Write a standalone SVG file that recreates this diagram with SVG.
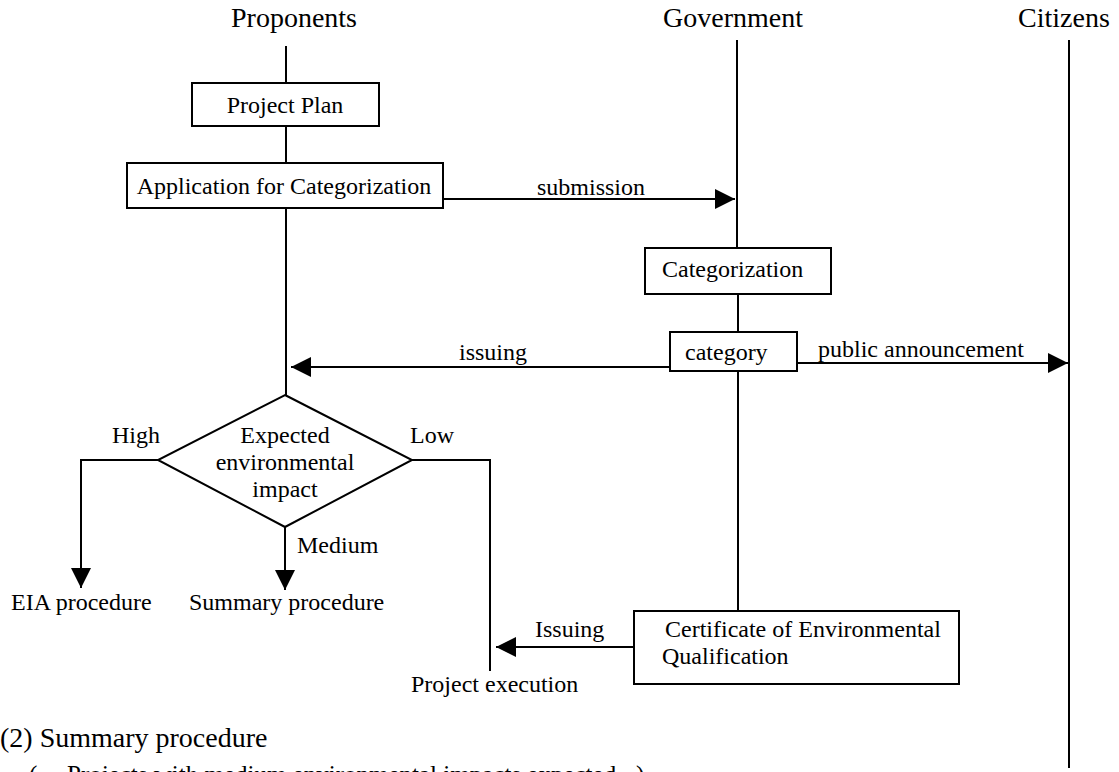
<svg xmlns="http://www.w3.org/2000/svg" width="1119" height="772" viewBox="0 0 1119 772">
<style>
text{font-family:"Liberation Serif","Times New Roman",serif;fill:#000;font-size:24px}
.title{font-size:28px}
.big{font-size:28px}
.note{font-size:25px}
.box{fill:#fff;stroke:#000;stroke-width:2}
.ln{fill:none;stroke:#000;stroke-width:2}
.mid{text-anchor:middle}
</style>
<defs>
<marker id="ah" markerUnits="userSpaceOnUse" markerWidth="20" markerHeight="20" refX="20" refY="10" orient="auto" viewBox="0 0 20 20">
<path d="M0,0 L20,10 L0,20 z" fill="#000"/>
</marker>
</defs>
<rect width="1119" height="772" fill="#fff"/>
<g id="connectors">
<line class="ln" x1="286" y1="46" x2="286" y2="83"/>
<line class="ln" x1="286" y1="126" x2="286" y2="163"/>
<line class="ln" x1="286" y1="208" x2="286" y2="395"/>
<line class="ln" x1="737" y1="40" x2="737" y2="248"/>
<line class="ln" x1="738" y1="294" x2="738" y2="332"/>
<line class="ln" x1="738" y1="371" x2="738" y2="611"/>
<line class="ln" x1="1069" y1="40" x2="1069" y2="768"/>
<line class="ln" x1="443" y1="199" x2="735" y2="199" marker-end="url(#ah)"/>
<line class="ln" x1="670" y1="367" x2="291" y2="367" marker-end="url(#ah)"/>
<line class="ln" x1="797" y1="363" x2="1068" y2="363" marker-end="url(#ah)"/>
<polyline class="ln" points="158,460 81,460 81,588" marker-end="url(#ah)"/>
<line class="ln" x1="285" y1="527" x2="285" y2="590" marker-end="url(#ah)"/>
<polyline class="ln" points="412,460 490,460 490,671"/>
<line class="ln" x1="634" y1="647" x2="496" y2="647" marker-end="url(#ah)"/>
<text x="537" y="195">submission</text>
<text x="459" y="360">issuing</text>
<text x="818" y="357">public announcement</text>
<text x="112" y="443">High</text>
<text x="410" y="443">Low</text>
<text x="297" y="553">Medium</text>
<text x="535" y="637">Issuing</text>
</g>
<g id="lane-titles">
<text class="title mid" x="294" y="27">Proponents</text>
<text class="title mid" x="733" y="27">Government</text>
<text class="title mid" x="1064" y="27">Citizens</text>
</g>
<g id="project-plan">
<rect class="box" x="192" y="83" width="187" height="43"/>
<text class="mid" x="285" y="113">Project Plan</text>
</g>
<g id="application">
<rect class="box" x="127" y="163" width="316" height="45"/>
<text class="mid" x="284" y="194">Application for Categorization</text>
</g>
<g id="categorization">
<rect class="box" x="645" y="248" width="186" height="46"/>
<text x="662" y="277">Categorization</text>
</g>
<g id="category">
<rect class="box" x="670" y="332" width="127" height="39"/>
<text x="685" y="360">category</text>
</g>
<g id="decision">
<polygon class="box" points="285,395 412,460 285,527 158,460"/>
<text class="mid" x="285" y="443">Expected</text>
<text class="mid" x="285" y="470">environmental</text>
<text class="mid" x="285" y="497">impact</text>
</g>
<g id="eia">
<text x="11" y="610">EIA procedure</text>
</g>
<g id="summary">
<text x="189" y="610">Summary procedure</text>
</g>
<g id="certificate">
<rect class="box" x="634" y="611" width="325" height="73"/>
<text x="665" y="637">Certificate of Environmental</text>
<text x="662" y="664">Qualification</text>
</g>
<g id="execution">
<text x="411" y="692">Project execution</text>
</g>
<g id="footnote">
<text class="big" x="0" y="747">(2) Summary procedure</text>
<text class="note" y="783"><tspan x="29">(</tspan><tspan x="67">Projects with medium environmental impacts expected</tspan><tspan x="636">)</tspan></text>
</g>
</svg>
